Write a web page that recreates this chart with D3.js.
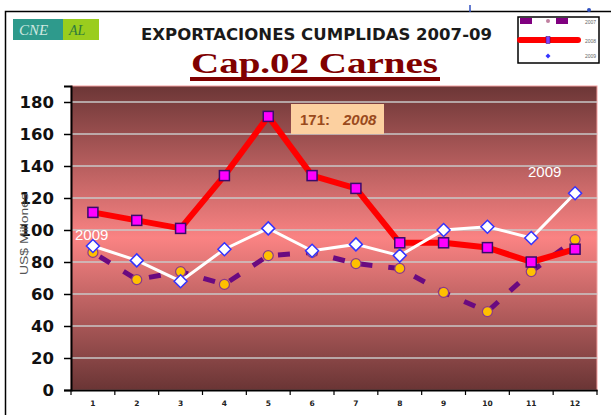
<!DOCTYPE html>
<html>
<head>
<meta charset="utf-8">
<script src="https://cdn.jsdelivr.net/npm/d3@7"></script>
<style>
  body { margin: 0; background: #fff; }
  svg { display: block; }
</style>
</head>
<body>
<svg id="chart" width="611" height="415"></svg>
<script>
const months = ['1', '2', '3', '4', '5', '6', '7', '8', '9', '10', '11', '12']
const years = ['2007', '2008', '2009']
const values2007 = [86, 69, 74, 66, 84, 86, 79, 76, 61, 49, 74, 94]
const values2008 = [111, 106, 101, 134, 171, 134, 126, 92, 92, 89, 80, 88]
const values2009 = [90, 81, 68, 88, 101, 87, 91, 84, 100, 102, 95, 123]
const yTicks = [0, 20, 40, 60, 80, 100, 120, 140, 160, 180]

const svg = d3.select('#chart')
const margin = { top: 86, right: 14, bottom: 25, left: 71 }
const width = 611 - margin.left - margin.right
const height = 415 - margin.top - margin.bottom

// outer frame of the slide
svg.append('rect')
  .attr('x', 5.5).attr('y', 11.5)
  .attr('width', 620).attr('height', 420)
  .attr('fill', 'none').attr('stroke', '#000').attr('stroke-width', 1.5)

// logo
const logo = svg.append('g').attr('transform', 'translate(13,19)')
logo.append('rect').attr('width', 86).attr('height', 21).attr('fill', '#9acd1e')
logo.append('rect').attr('width', 50).attr('height', 21).attr('fill', '#2e9a8c')
logo.append('text').attr('x', 6).attr('y', 16)
  .attr('font-family', 'Liberation Serif').attr('font-style', 'italic')
  .attr('font-size', 15).attr('fill', '#cfe8e0').text('CNE')
logo.append('text').attr('x', 56).attr('y', 16)
  .attr('font-family', 'Liberation Serif').attr('font-style', 'italic')
  .attr('font-size', 14).attr('fill', '#2e7a3c').text('AL')

// titles
svg.append('text')
  .attr('x', 141).attr('y', 40)
  .attr('font-family', 'DejaVu Sans')
  .attr('font-weight', 'bold')
  .attr('font-size', 15.5)
  .attr('fill', '#1a1a1a')
  .attr('textLength', 351)
  .attr('lengthAdjust', 'spacingAndGlyphs')
  .text('EXPORTACIONES CUMPLIDAS 2007-09')

svg.append('text')
  .attr('x', 191).attr('y', 73)
  .attr('font-family', 'Liberation Serif')
  .attr('font-weight', 'bold')
  .attr('font-size', 30)
  .attr('fill', '#800000')
  .attr('textLength', 247)
  .attr('lengthAdjust', 'spacingAndGlyphs')
  .text('Cap.02 Carnes')
svg.append('rect')
  .attr('x', 190).attr('y', 77)
  .attr('width', 250).attr('height', 4)
  .attr('fill', '#800000')

const g = svg.append('g')
  .attr('transform', 'translate(' + margin.left + ',' + margin.top + ')')

const x = d3.scaleBand().domain(months).range([0, width])
const y = d3.scaleLinear().domain([0, 190]).range([height, 0])

// background gradient
const grad = svg.append('defs').append('linearGradient')
  .attr('id', 'bg').attr('x1', 0).attr('y1', 0).attr('x2', 0).attr('y2', 1)
grad.selectAll('stop')
  .data([[0, '#6c3636'], [0.5, '#fa8383'], [1, '#6a3535']])
  .enter().append('stop')
  .attr('offset', d => d[0]).attr('stop-color', d => d[1])

g.append('rect')
  .attr('width', width).attr('height', height)
  .attr('fill', 'url(#bg)')
  .attr('stroke', '#f4a0a0').attr('stroke-width', 1)

// gridlines
g.selectAll('.grid')
  .data(yTicks.filter(d => d > 0))
  .enter().append('line')
  .attr('x1', 0).attr('x2', width)
  .attr('y1', d => y(d)).attr('y2', d => y(d))
  .attr('stroke', '#c8c8c8').attr('stroke-width', 1.5)

// y axis
const yAxis = g.append('g')
  .call(d3.axisLeft(y).tickValues(yTicks).tickSize(7).tickPadding(10))
yAxis.select('.domain').attr('stroke', '#000').attr('stroke-width', 2)
yAxis.selectAll('.tick line').attr('stroke', '#000').attr('stroke-width', 1.5)
yAxis.selectAll('text')
  .attr('font-family', 'DejaVu Sans').attr('font-weight', 'bold')
  .attr('font-size', 16.5).attr('fill', '#111')

// x axis
const xAxis = g.append('g')
  .attr('transform', 'translate(0,' + height + ')')
  .call(d3.axisBottom(x).tickSize(0).tickPadding(11))
xAxis.select('.domain').attr('stroke', '#000').attr('stroke-width', 2)
xAxis.selectAll('text')
  .attr('font-family', 'DejaVu Sans').attr('font-weight', 'bold')
  .attr('font-size', 7.5).attr('fill', '#222')
xAxis.selectAll('.bticks')
  .data(d3.range(months.length + 1))
  .enter().append('line')
  .attr('x1', i => i * x.step()).attr('x2', i => i * x.step())
  .attr('y1', 0).attr('y2', 5)
  .attr('stroke', '#000').attr('stroke-width', 1.2)

// y axis title
svg.append('text')
  .attr('transform', 'translate(27.5,234) rotate(-90)')
  .attr('text-anchor', 'middle')
  .attr('font-family', 'Liberation Sans')
  .attr('font-size', 11)
  .attr('fill', '#555')
  .attr('textLength', 82)
  .attr('lengthAdjust', 'spacingAndGlyphs')
  .text('US$ Millones')

const cx = (d, i) => x(months[i]) + x.bandwidth() / 2
const line = d3.line().x(cx).y(d => y(d))

// 2007
g.append('path')
  .datum(values2007)
  .attr('d', line)
  .attr('fill', 'none')
  .attr('stroke', '#6a0a80')
  .attr('stroke-width', 5)
  .attr('stroke-dasharray', '12,16')
  .attr('stroke-dashoffset', -8)
g.selectAll('.p2007')
  .data(values2007)
  .enter().append('circle')
  .attr('cx', cx).attr('cy', d => y(d))
  .attr('r', 5)
  .attr('fill', '#ffc000').attr('stroke', '#8a3a8a').attr('stroke-width', 1.2)

// 2008
g.append('path')
  .datum(values2008)
  .attr('d', line)
  .attr('fill', 'none')
  .attr('stroke', '#ff0000')
  .attr('stroke-width', 6)
  .attr('stroke-linejoin', 'round')
g.selectAll('.p2008')
  .data(values2008)
  .enter().append('rect')
  .attr('x', (d, i) => cx(d, i) - 5).attr('y', d => y(d) - 5)
  .attr('width', 10).attr('height', 10)
  .attr('fill', '#ff00ff').attr('stroke', '#3a0a6a').attr('stroke-width', 1.5)

// 2009
g.append('path')
  .datum(values2009)
  .attr('d', line)
  .attr('fill', 'none')
  .attr('stroke', '#ffffff')
  .attr('stroke-width', 3)
g.selectAll('.p2009')
  .data(values2009)
  .enter().append('path')
  .attr('transform', (d, i) => 'translate(' + cx(d, i) + ',' + y(d) + ')')
  .attr('d', 'M0,-6.5L6.5,0L0,6.5L-6.5,0Z')
  .attr('fill', '#ffffff').attr('stroke', '#3333ff').attr('stroke-width', 1.5)

// annotation for the 2008 peak
const peak = d3.maxIndex(values2008)
g.append('rect')
  .attr('x', 220).attr('y', 18)
  .attr('width', 93).attr('height', 30)
  .attr('fill', '#fcd0a0')
const ann = g.append('text')
  .attr('y', 39)
  .attr('font-family', 'Liberation Sans').attr('font-weight', 'bold')
  .attr('font-size', 15).attr('fill', '#9a4a1c')
ann.append('tspan').attr('x', 229).text(values2008[peak] + ':')
ann.append('tspan').attr('x', 272).attr('font-style', 'italic').text(years[1])

// series labels for 2009
g.append('text')
  .attr('x', 4).attr('y', 154)
  .attr('font-family', 'Liberation Sans').attr('font-size', 15)
  .attr('fill', '#fff').text(years[2])
g.append('text')
  .attr('x', 457).attr('y', 91)
  .attr('font-family', 'Liberation Sans').attr('font-size', 15)
  .attr('fill', '#fff').text(years[2])

// legend
const lg = svg.append('g').attr('transform', 'translate(518,17)')
lg.append('rect').attr('width', 81).attr('height', 46)
  .attr('fill', '#fff').attr('stroke', '#000').attr('stroke-width', 1.5)
const rows = lg.selectAll('.row').data(years).enter().append('g')
  .attr('transform', (d, i) => 'translate(0,' + (6 + i * 15) + ')')
rows.filter((d, i) => i === 0).each(function () {
  const r = d3.select(this)
  r.append('rect').attr('x', 2).attr('y', -5).attr('width', 12).attr('height', 6).attr('fill', '#800080')
  r.append('rect').attr('x', 38).attr('y', -5).attr('width', 12).attr('height', 6).attr('fill', '#800080')
  r.append('circle').attr('cx', 30).attr('cy', -2).attr('r', 2).attr('fill', '#c080a0')
})
rows.filter((d, i) => i === 1).each(function () {
  const r = d3.select(this)
  r.append('line').attr('x1', 2).attr('x2', 60).attr('y1', 2).attr('y2', 2)
    .attr('stroke', '#ff0000').attr('stroke-width', 6).attr('stroke-linecap', 'round')
  r.append('rect').attr('x', 28).attr('y', -1.5).attr('width', 4).attr('height', 7)
    .attr('fill', '#8040ff').attr('stroke', '#3a0a6a').attr('stroke-width', 0.5)
})
rows.filter((d, i) => i === 2).each(function () {
  d3.select(this).append('path')
    .attr('transform', 'translate(30,3)')
    .attr('d', 'M0,-2.5L2.5,0L0,2.5L-2.5,0Z')
    .attr('fill', '#3333ff')
})
rows.append('text')
  .attr('x', 67).attr('y', (d, i) => [1, 5, 5][i])
  .attr('font-family', 'Liberation Sans').attr('font-size', 5)
  .attr('fill', '#666').text(d => d)

// small marks cut off at the top edge
svg.append('line').attr('x1', 470).attr('x2', 470).attr('y1', 5).attr('y2', 12)
  .attr('stroke', '#3050c0').attr('stroke-width', 1.5)
svg.append('circle').attr('cx', 589).attr('cy', 10).attr('r', 2).attr('fill', '#3050c0')
</script>
</body>
</html>
